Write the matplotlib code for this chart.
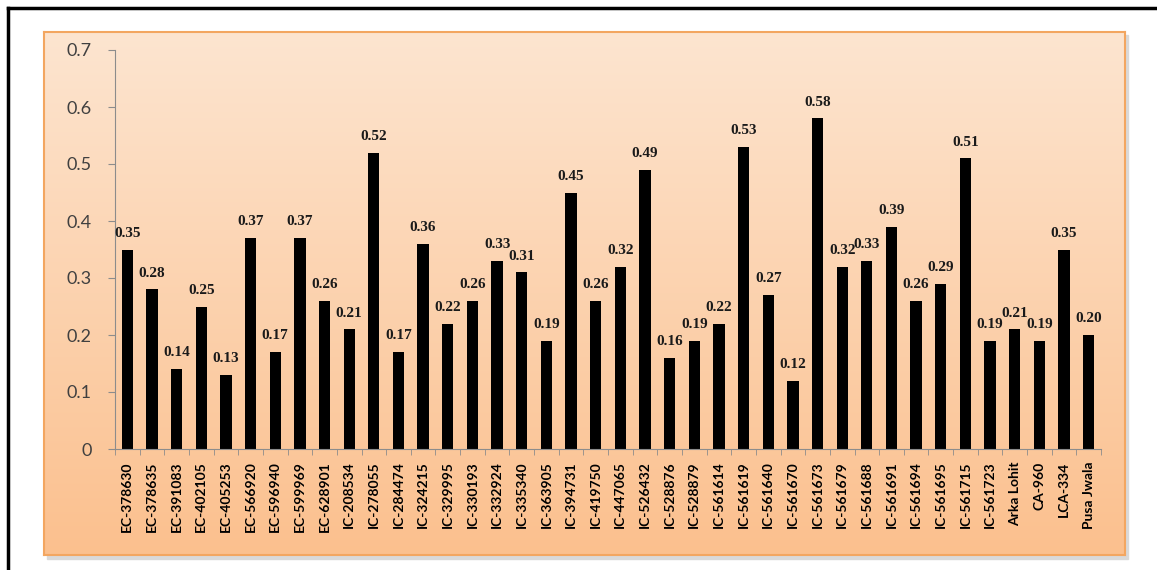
import matplotlib.pyplot as plt
import numpy as np
from matplotlib.lines import Line2D
from matplotlib.patches import Rectangle

genotypes = ['EC-378630', 'EC-378635', 'EC-391083', 'EC-402105', 'EC-405253',
             'EC-566920', 'EC-596940', 'EC-599969', 'EC-628901', 'IC-208534',
             'IC-278055', 'IC-284474', 'IC-324215', 'IC-329995', 'IC-330193',
             'IC-332924', 'IC-335340', 'IC-363905', 'IC-394731', 'IC-419750',
             'IC-447065', 'IC-526432', 'IC-528876', 'IC-528879', 'IC-561614',
             'IC-561619', 'IC-561640', 'IC-561670', 'IC-561673', 'IC-561679',
             'IC-561688', 'IC-561691', 'IC-561694', 'IC-561695', 'IC-561715',
             'IC-561723', 'Arka Lohit', 'CA-960', 'LCA-334', 'Pusa Jwala']
values = [0.35, 0.28, 0.14, 0.25, 0.13, 0.37, 0.17, 0.37, 0.26, 0.21,
          0.52, 0.17, 0.36, 0.22, 0.26, 0.33, 0.31, 0.19, 0.45, 0.26,
          0.32, 0.49, 0.16, 0.19, 0.22, 0.53, 0.27, 0.12, 0.58, 0.32,
          0.33, 0.39, 0.26, 0.29, 0.51, 0.19, 0.21, 0.19, 0.35, 0.20]
yticks = [0, 0.1, 0.2, 0.3, 0.4, 0.5, 0.6, 0.7]

W, H = 1157, 570
fig = plt.figure(figsize=(W / 100, H / 100), dpi=100)
fig.patch.set_facecolor('white')

# soft shadow + peach gradient panel behind the chart
shadow = Rectangle((47 / W, 1 - 559 / H), (1081 / W), (524 / H),
                   transform=fig.transFigure, color='#d9d9d9', zorder=0)
fig.add_artist(shadow)
bg = fig.add_axes([44 / W, 1 - 555 / H, (1125 - 44) / W, (555 - 32) / H], zorder=1)
grad = np.linspace(0, 1, 256).reshape(-1, 1)
top = np.array([253, 229, 208]) / 255
bot = np.array([251, 192, 142]) / 255
img = top + (bot - top) * grad[:, :, None]
bg.imshow(img, aspect='auto', extent=[0, 1, 0, 1])
bg.set_xticks([])
bg.set_yticks([])
for s in bg.spines.values():
    s.set_color('#f3a660')
    s.set_linewidth(1.5)

ax = fig.add_axes([115 / W, 1 - 449 / H, (1101 - 115) / W, (449 - 50) / H], zorder=2)
ax.patch.set_alpha(0)
x = np.arange(len(genotypes))
ax.bar(x, values, width=0.46, color='black')
for xi, v in zip(x, values):
    ax.annotate(f'{v:.2f}', (xi, v), xytext=(0, 7), textcoords='offset points',
                ha='center', va='bottom', fontsize=11, fontweight='bold',
                family='Liberation Serif', color='#1a1a1a')

ax.set_xlim(-0.5, len(genotypes) - 0.5)
ax.set_ylim(0, 0.7)
ax.set_yticks(yticks)
ax.set_yticklabels(['0' if t == 0 else f'{t:.1f}' for t in yticks],
                   fontsize=13, family='Lato', color='#404040')
ax.set_xticks(x)
ax.set_xticklabels(genotypes, rotation=90, fontsize=10, fontweight='bold',
                   family='Lato', color='black')
ax.set_xticks(np.arange(-0.5, len(genotypes), 1), minor=True)
ax.tick_params(axis='x', which='major', length=0, pad=9)
ax.tick_params(axis='x', which='minor', length=4, color='#8c8c8c', direction='out')
ax.tick_params(axis='y', length=5, color='#8c8c8c', pad=12)
for side in ['top', 'right']:
    ax.spines[side].set_visible(False)
ax.spines['left'].set_color('#8c8c8c')
ax.spines['bottom'].set_color('#8c8c8c')

# black frame on top and left edges
fig.add_artist(Line2D([8 / W, 1], [1 - 8 / H, 1 - 8 / H], color='black', lw=2.5,
                      transform=fig.transFigure))
fig.add_artist(Line2D([8 / W, 8 / W], [0, 1 - 8 / H], color='black', lw=2.5,
                      transform=fig.transFigure))

fig.savefig('out.png', dpi=100)
